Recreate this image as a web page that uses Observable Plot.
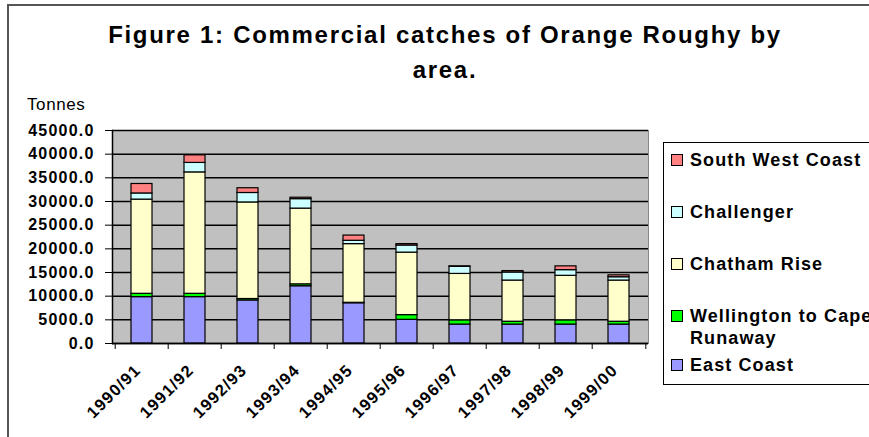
<!DOCTYPE html>
<html>
<head>
<meta charset="utf-8">
<script src="https://cdn.jsdelivr.net/npm/d3@7"></script>
<script src="https://cdn.jsdelivr.net/npm/@observablehq/plot@0.6"></script>
<style>
  html, body { margin: 0; padding: 0; background: #fff; overflow: hidden; }
  #wrap { position: relative; width: 869px; height: 437px; font-family: "Liberation Sans", Arial, sans-serif; }
  #chart { position: absolute; left: 0; top: 0; }
  #chart svg text { letter-spacing: 1.2px; }
  .outer { position: absolute; left: 7px; top: 4px; width: 900px; height: 500px; border-left: 2px solid #555; border-top: 2px solid #555; box-sizing: border-box; }
  .title { position: absolute; left: 0; width: 890px; text-align: center; font-size: 24px; font-weight: bold; letter-spacing: 1.7px; color: #000; }
  .tonnes { position: absolute; left: 27px; top: 95px; font-size: 17px; letter-spacing: 0.6px; color: #000; }
  .legend { position: absolute; left: 663px; top: 142px; width: 240px; height: 243px; border: 1px solid #000; box-sizing: border-box; background: #fff; }
  .item { position: absolute; left: 7px; padding-left: 19px; font-size: 18px; font-weight: bold; letter-spacing: 1.1px; line-height: 22px; color: #000; white-space: nowrap; }
  .sw { position: absolute; left: 0; top: 5px; width: 10px; height: 10px; border: 1px solid #000; }
</style>
</head>
<body>
<div id="wrap">
  <div class="outer"></div>
  <div id="chart"></div>
  <div class="title" style="top:21px">Figure 1: Commercial catches of Orange Roughy by</div>
  <div class="title" style="top:56px">area.</div>
  <div class="tonnes">Tonnes</div>
  <div class="legend" id="legend"></div>
</div>
<script>
const years = ["1990/91","1991/92","1992/93","1993/94","1994/95","1995/96","1996/97","1997/98","1998/99","1999/00"];
const eastCoast  = [9800, 9800, 9100, 12100, 8500, 5000, 4000, 4000, 4000, 4000];
const wellington = [700, 700, 300, 400, 100, 1000, 900, 600, 900, 600];
const chatham    = [19900, 25650, 20400, 16000, 12400, 13200, 9800, 8700, 9400, 8700];
const challenger = [1300, 2000, 2000, 2000, 700, 1500, 1500, 1700, 1200, 700];
const southWest  = [2000, 1600, 1000, 300, 1100, 300, 100, 300, 800, 400];
const seriesNames = ["East Coast", "Wellington to Cape Runaway", "Chatham Rise", "Challenger", "South West Coast"];
const seriesColors = ["#9999ff", "#00ff00", "#ffffcc", "#ccffff", "#ff8080"];
const yTicks = [0, 5000, 10000, 15000, 20000, 25000, 30000, 35000, 40000, 45000];

const seriesValues = [eastCoast, wellington, chatham, challenger, southWest];
const rows = [];
seriesNames.forEach((s, i) => years.forEach((y, j) => rows.push({year: y, series: s, value: seriesValues[i][j]})));

const W = 869, H = 437, mL = 112, mR = 221, mT = 130, mB = 94;
const step = (W - mL - mR) / years.length;

const chart = Plot.plot({
  width: W, height: H,
  marginLeft: mL, marginRight: mR, marginTop: mT, marginBottom: mB,
  style: {fontFamily: '"Liberation Sans", Arial, sans-serif', color: "#000", background: "transparent"},
  x: {domain: years, padding: 0, label: null},
  y: {domain: [0, 45000], label: null},
  color: {domain: seriesNames, range: seriesColors},
  marks: [
    Plot.frame({fill: "#c0c0c0", stroke: "#888"}),
    Plot.ruleY(yTicks, {stroke: "#000", strokeWidth: 1.5}),
    Plot.barY(rows, Plot.stackY({order: seriesNames, x: "year", y: "value", fill: "series", stroke: "#000", strokeWidth: 1.2, insetLeft: 16, insetRight: 16})),
    Plot.frame({anchor: "left", stroke: "#000", strokeWidth: 1.5}),
    Plot.ruleY([0], {stroke: "#000", strokeWidth: 1.5}),
    Plot.ruleX(years, {x: d => d, y1: 0, y2: 0, dx: -step / 2, insetBottom: -6, stroke: "#000"}),
    Plot.ruleX(years.slice(-1), {x: d => d, y1: 0, y2: 0, dx: step / 2, insetBottom: -6, stroke: "#000"}),
    Plot.axisY({ticks: yTicks, tickFormat: d => d.toFixed(1), tickSize: 7, tickPadding: 11, fontSize: 16, fontWeight: "bold", label: null}),
    Plot.axisX({tickRotate: -45, tickSize: 0, tickPadding: 24, dx: -4, fontSize: 16.5, fontWeight: "bold", label: null})
  ]
});
document.getElementById("chart").appendChild(chart);

// legend (top to bottom: reverse of stack order)
const legendTops = [6, 58, 110, 162, 211];
const legend = document.getElementById("legend");
seriesNames.slice().reverse().forEach((s, i) => {
  const idx = seriesNames.indexOf(s);
  const div = document.createElement("div");
  div.className = "item";
  div.style.top = legendTops[i] + "px";
  const label = s === "Wellington to Cape Runaway" ? "Wellington to Cape<br>Runaway" : s;
  div.innerHTML = `<span class="sw" style="background:${seriesColors[idx]}"></span>${label}`;
  legend.appendChild(div);
});
</script>
</body>
</html>
